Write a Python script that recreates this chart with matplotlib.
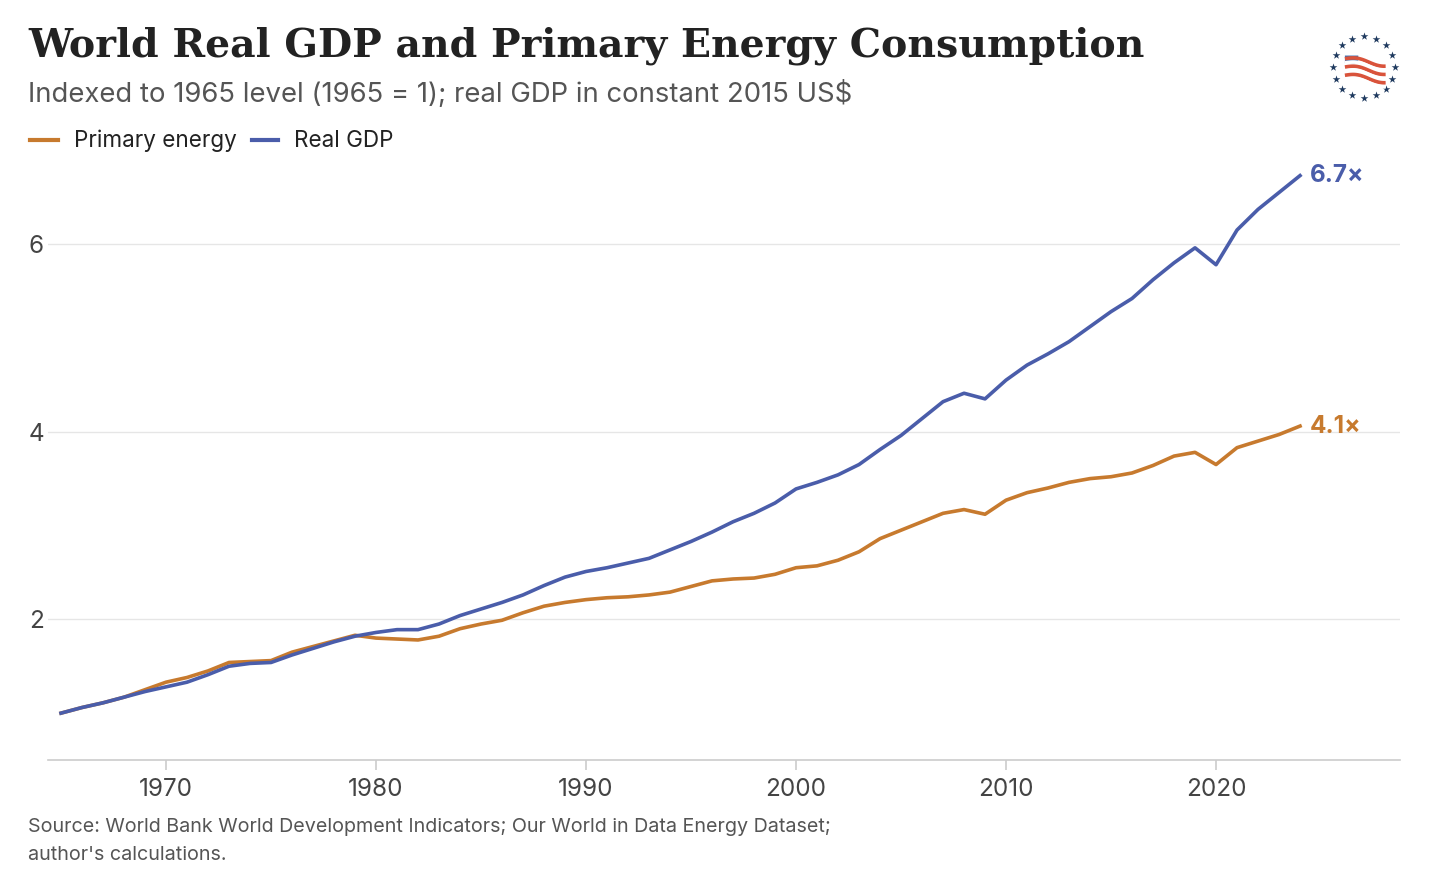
import numpy as np
import matplotlib
matplotlib.use("Agg")
import matplotlib.pyplot as plt
from matplotlib.patches import Polygon

# data (index, 1965 = 1)
years = list(range(1965, 2025))
real_gdp = [1.00, 1.06, 1.11, 1.17, 1.23, 1.28, 1.33, 1.41, 1.50, 1.53,
            1.54, 1.62, 1.69, 1.76, 1.82, 1.86, 1.89, 1.89, 1.95, 2.04,
            2.11, 2.18, 2.26, 2.36, 2.45, 2.51, 2.55, 2.60, 2.65, 2.74,
            2.83, 2.93, 3.04, 3.13, 3.24, 3.39, 3.46, 3.54, 3.65, 3.81,
            3.96, 4.14, 4.32, 4.41, 4.35, 4.55, 4.71, 4.83, 4.96, 5.12,
            5.28, 5.42, 5.62, 5.80, 5.96, 5.78, 6.15, 6.37, 6.55, 6.73]
primary_energy = [1.00, 1.06, 1.11, 1.17, 1.25, 1.33, 1.38, 1.45, 1.54, 1.55,
                  1.56, 1.65, 1.71, 1.77, 1.83, 1.80, 1.79, 1.78, 1.82, 1.90,
                  1.95, 1.99, 2.07, 2.14, 2.18, 2.21, 2.23, 2.24, 2.26, 2.29,
                  2.35, 2.41, 2.43, 2.44, 2.48, 2.55, 2.57, 2.63, 2.72, 2.86,
                  2.95, 3.04, 3.13, 3.17, 3.12, 3.27, 3.35, 3.40, 3.46, 3.50,
                  3.52, 3.56, 3.64, 3.74, 3.78, 3.65, 3.83, 3.90, 3.97, 4.06]
end_labels = ["6.7×", "4.1×"]
y_ticks = [2, 4, 6]
x_ticks = [1970, 1980, 1990, 2000, 2010, 2020]

BLUE = "#4A5DAA"
ORANGE = "#C77A2E"
TEXT = "#222222"
GREY = "#555555"

plt.rcParams["font.family"] = ["Inter", "DejaVu Sans"]

fig = plt.figure(figsize=(14.29, 8.85), dpi=100)
ax = fig.add_axes([0.0336, 0.1412, 0.9461, 0.689])

ax.plot(years, primary_energy, color=ORANGE, lw=2.6, solid_joinstyle="round")
ax.plot(years, real_gdp, color=BLUE, lw=2.6, solid_joinstyle="round")

ax.text(years[-1] + 0.45, real_gdp[-1], end_labels[0], color=BLUE, fontsize=17.5,
        fontweight="bold", va="center", ha="left")
ax.text(years[-1] + 0.45, primary_energy[-1], end_labels[1], color=ORANGE, fontsize=17.5,
        fontweight="bold", va="center", ha="left")

ax.set_xlim(1964.38, 2028.76)
ax.set_ylim(0.5, 7.0)
ax.set_yticks(y_ticks)
ax.set_xticks(x_ticks)
ax.grid(axis="y", color="#E6E6E6", lw=1)
ax.set_axisbelow(True)
for s in ["top", "right", "left"]:
    ax.spines[s].set_visible(False)
ax.spines["bottom"].set_color("#CCCCCC")
ax.spines["bottom"].set_linewidth(1.2)
ax.tick_params(axis="x", colors="#CCCCCC", length=7, width=1.2, labelcolor="#444444",
               labelsize=17.5, pad=6)
ax.tick_params(axis="y", length=0, labelcolor="#444444", labelsize=17.5, pad=3)

# titles
fig.text(0.0196, 0.948, "World Real GDP and Primary Energy Consumption",
         family="DejaVu Serif", fontweight="bold", fontsize=28.4, color=TEXT, va="center")
fig.text(0.0196, 0.894, "Indexed to 1965 level (1965 = 1); real GDP in constant 2015 US$",
         fontsize=19.8, color=GREY, va="center")

# legend
fig.lines.append(plt.Line2D([0.021, 0.0406], [0.842, 0.842], color=ORANGE, lw=3,
                            transform=fig.transFigure))
fig.text(0.0518, 0.841, "Primary energy", fontsize=16.2, color=TEXT, va="center")
fig.lines.append(plt.Line2D([0.1764, 0.1946], [0.842, 0.842], color=BLUE, lw=3,
                            transform=fig.transFigure))
fig.text(0.2058, 0.841, "Real GDP", fontsize=16.2, color=TEXT, va="center")

# source
fig.text(0.0196, 0.0497, "Source: World Bank World Development Indicators; Our World in Data Energy Dataset;\nauthor's calculations.",
         fontsize=14.2, color=GREY, va="center", linespacing=1.66)

# logo: ring of stars with a small waving flag
lax = fig.add_axes([1329 / 1429, 1 - 102 / 885, 70 / 1429, 70 / 885])
lax.set_xlim(-1.1, 1.1)
lax.set_ylim(-1.1, 1.1)
lax.axis("off")
ang = np.linspace(0, 2 * np.pi, 16, endpoint=False) + np.pi / 2
lax.scatter(np.cos(ang) * 0.96, np.sin(ang) * 0.96, marker="*", s=34, color="#1F3A5F", lw=0)
xs = np.linspace(-0.6, 0.68, 30)
for i in range(6):
    yb = 0.26 - i * 0.13 + 0.07 * np.sin((xs + 0.6) * 4.2) - 0.14 * (xs + 0.6)
    lax.plot(xs, yb, color="#D9533B" if i % 2 == 0 else "white", lw=2.6,
             solid_capstyle="butt")
lax.add_patch(Polygon([[-0.6, 0.36], [-0.18, 0.36], [-0.18, 0.1], [-0.6, 0.12]],
                      closed=True, color="#3D6FB0", lw=0))

fig.savefig("out.png", dpi=100)
